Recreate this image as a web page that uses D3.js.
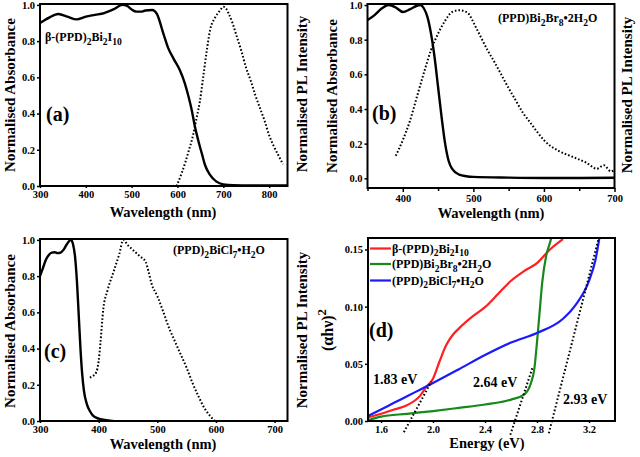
<!DOCTYPE html>
<html><head><meta charset="utf-8">
<script src="https://cdn.jsdelivr.net/npm/d3@7"></script>
<style>
body{margin:0;background:#fff}
svg{display:block}
text{font-family:"Liberation Serif","Times New Roman",serif;font-weight:bold;fill:#000}
</style>
</head><body>
<svg id="chart" width="640" height="457"></svg>
<script>
// ---------------- DATA ----------------
// Panel (a): beta-(PPD)2Bi2I10
const absA = [[300,0.90],[320,0.93],[340,0.95],[360,0.935],[380,0.92],[400,0.935],[420,0.945],[440,0.955],[460,0.975],[480,1.0],[490,0.995],[500,0.975],[510,0.963],[520,0.963],[530,0.969],[545,0.972],[555,0.95],[569,0.843],[580,0.76],[591,0.705],[605,0.64],[616,0.567],[624,0.494],[631,0.42],[638,0.328],[645,0.254],[653,0.18],[660,0.116],[671,0.061],[685,0.024],[700,0.009],[722,0.004],[760,0.003],[800,0.003],[840,0.003]];
const plA = [[598,0.0],[609,0.07],[617,0.13],[624,0.19],[633,0.27],[642,0.38],[649,0.47],[656,0.60],[664,0.75],[671,0.86],[682,0.93],[693,0.97],[700,0.99],[706,0.98],[712,0.95],[720,0.90],[730,0.82],[740,0.74],[750,0.65],[760,0.58],[770,0.50],[780,0.43],[790,0.36],[800,0.28],[810,0.22],[820,0.17],[830,0.12]];
const ticksAx = [300,400,500,600,700,800];

// Panel (b): (PPD)Bi2Br8.2H2O
const absB = [[350,0.913],[360,0.942],[370,0.98],[380,1.0],[390,0.986],[400,0.96],[410,0.975],[420,0.996],[425,1.0],[430,0.98],[435,0.93],[440,0.835],[445,0.70],[450,0.527],[455,0.353],[460,0.20],[465,0.10],[470,0.054],[480,0.021],[490,0.012],[500,0.008],[550,0.004],[600,0.002],[650,0.002],[700,0.003]];
const plB = [[390,0.13],[400,0.22],[410,0.33],[420,0.47],[430,0.61],[440,0.74],[450,0.835],[460,0.91],[470,0.96],[480,0.97],[490,0.96],[495,0.94],[500,0.90],[510,0.82],[520,0.74],[530,0.67],[540,0.595],[550,0.52],[560,0.45],[570,0.38],[580,0.325],[590,0.27],[600,0.22],[620,0.16],[640,0.125],[660,0.09],[675,0.055],[685,0.075],[695,0.04],[700,0.048]];
const ticksBx = [400,500,600,700];
const minorBx = [350,450,550,650];

// Panel (c): (PPD)2BiCl7.H2O
const absC = [[300,0.80],[305,0.844],[310,0.89],[315,0.917],[320,0.93],[325,0.932],[330,0.927],[335,0.93],[340,0.945],[345,0.972],[350,0.995],[353,1.0],[356,0.98],[360,0.90],[363,0.77],[366,0.587],[369,0.40],[372,0.257],[375,0.165],[380,0.092],[385,0.055],[390,0.031],[400,0.013],[410,0.006],[420,0.002],[425,0.0]];
const plC = [[385,0.24],[390,0.248],[396,0.27],[400,0.33],[403,0.43],[408,0.62],[415,0.72],[425,0.82],[435,0.92],[442,1.0],[450,0.97],[460,0.94],[470,0.91],[480,0.88],[485,0.826],[490,0.76],[500,0.69],[510,0.605],[520,0.514],[530,0.44],[540,0.367],[550,0.294],[560,0.21],[570,0.138],[580,0.073],[590,0.028],[598,0.0]];
const ticksCx = [300,400,500,600,700];

// Panel (d): Tauc plots
const taucI = [[1.5,0.003],[1.6,0.0063],[1.7,0.010],[1.8,0.0138],[1.9,0.022],[1.95,0.030],[2.0,0.037],[2.05,0.052],[2.1,0.066],[2.15,0.075],[2.2,0.081],[2.3,0.091],[2.4,0.0995],[2.5,0.111],[2.6,0.1226],[2.7,0.131],[2.8,0.138],[2.9,0.15],[3.0,0.159]];
const taucBr = [[1.5,0.0006],[1.6,0.0038],[1.8,0.0063],[2.0,0.0087],[2.2,0.0115],[2.4,0.0144],[2.6,0.0187],[2.7,0.023],[2.75,0.032],[2.78,0.046],[2.8,0.069],[2.82,0.095],[2.84,0.121],[2.87,0.144],[2.9,0.156],[2.91,0.16]];
const taucCl = [[1.5,0.0043],[1.6,0.010],[1.7,0.0159],[1.8,0.0216],[1.9,0.0274],[2.0,0.0332],[2.2,0.0453],[2.4,0.0577],[2.6,0.0686],[2.8,0.077],[3.0,0.0894],[3.1,0.102],[3.2,0.1226],[3.25,0.141],[3.28,0.16]];
const tangentI = [[1.776,-0.0098],[1.988,0.0346]];
const tangentBr = [[2.595,-0.012],[2.768,0.0476]];
const tangentCl = [[2.891,-0.0107],[3.275,0.16]];
const ticksDx = [1.6,2.0,2.4,2.8,3.2];
const ticksDy = [0.00,0.05,0.10,0.15];
const ticksAbsY = [0.0,0.2,0.4,0.6,0.8,1.0];
const legendNames = [
  [["β-(PPD)",null],["2","sub"],["Bi","n"],["2","sub"],["I","n"],["10","sub"]],
  [["(PPD)Bi",null],["2","sub"],["Br","n"],["8","sub"],["•2H","n"],["2","sub"],["O","n"]],
  [["(PPD)",null],["2","sub"],["BiCl","n"],["7","sub"],["•H","n"],["2","sub"],["O","n"]]
];
const seriesColors = ["#ff1f1f","#17891a","#1a1aff"];
const gapLabels = ["1.83 eV","2.64 eV","2.93 eV"];

// ---------------- DRAWING ----------------
const svg = d3.select("#chart");

function rich(sel, parts, size){
  let shift = 0;
  parts.forEach(([t,k])=>{
    const target = k==="sub" ? size*0.33 : (k==="sup" ? -size*0.45 : 0);
    sel.append("tspan").attr("dy", target-shift)
      .attr("font-size", (k==="sub"||k==="sup") ? size*0.8 : size).text(t);
    shift = target;
  });
}

let clipId = 0;
function panel(o){
  const g = svg.append("g");
  const x = d3.scaleLinear().domain(o.xDomain).range([o.left,o.right]);
  const y = d3.scaleLinear().domain(o.yDomain).range([o.bottom,o.top]);
  const id = "clip"+(clipId++);
  svg.append("clipPath").attr("id",id).append("rect")
    .attr("x",o.left).attr("y",o.top).attr("width",o.right-o.left).attr("height",o.bottom-o.top);

  const xa = g.append("g").attr("transform",`translate(0,${o.bottom})`)
    .call(d3.axisBottom(x).tickValues(o.xTicks).tickFormat(o.xFmt).tickSize(o.xTickSize).tickPadding(o.xPad).tickSizeOuter(0));
  if(o.xMinor){
    g.append("g").attr("transform",`translate(0,${o.bottom})`)
      .call(d3.axisBottom(x).tickValues(o.xMinor).tickFormat("").tickSize(3).tickSizeOuter(0))
      .call(s=>s.select(".domain").remove())
      .selectAll("line").attr("stroke-width",1.5);
  }
  const ya = g.append("g").attr("transform",`translate(${o.left},0)`)
    .call(d3.axisLeft(y).tickValues(o.yTicks).tickFormat(o.yFmt).tickSize(3).tickPadding(2).tickSizeOuter(0));
  [xa,ya].forEach(a=>{
    a.select(".domain").remove();
    a.selectAll("line").attr("stroke-width",1.5);
    a.selectAll("text").attr("font-size",10.5).attr("font-family",'"Liberation Serif",serif').attr("font-weight","bold");
  });

  const cg = g.append("g").attr("clip-path",`url(#${id})`);
  const line = d3.line().x(d=>x(d[0])).y(d=>y(d[1])).curve(d3.curveMonotoneX);
  (o.solid||[]).forEach(s=>{
    cg.append("path").datum(s.data).attr("d",line).attr("fill","none")
      .attr("stroke",s.color||"#000").attr("stroke-width",s.w||2.4).attr("stroke-linejoin","round");
  });
  (o.dotted||[]).forEach(s=>{
    cg.append("path").datum(s).attr("d",line).attr("fill","none")
      .attr("stroke","#000").attr("stroke-width",2).attr("stroke-dasharray","1.6,2");
  });
  g.append("rect").attr("x",o.left).attr("y",o.top).attr("width",o.right-o.left).attr("height",o.bottom-o.top)
    .attr("fill","none").attr("stroke","#000").attr("stroke-width",2);
  return {g,x,y};
}

function label(x,y,txt,size,rot){
  const t = svg.append("text").attr("font-size",size).attr("text-anchor","middle")
    .attr("transform",`translate(${x},${y})`+(rot?" rotate(-90)":""));
  if(typeof txt==="string") t.text(txt); else rich(t,txt,size);
  return t;
}

const fmt0 = d=>d3.format("d")(d);
const fmt1 = d3.format(".1f");
const fmt2 = d3.format(".2f");

// (a)
panel({left:40,right:287.5,top:4,bottom:186,xDomain:[300,840],yDomain:[0,1.005],
  xTicks:ticksAx,xFmt:fmt0,xTickSize:2,xPad:3,yTicks:ticksAbsY,yFmt:fmt1,
  solid:[{data:absA}],dotted:[plA]});
label(15,95,"Normalised Absorbance",15,true);
label(307,94,"Normalised PL Intensity",15,true);
label(163,217,"Wavelength (nm)",14.5,false);
svg.append("text").attr("x",46).attr("y",121).attr("font-size",20).text("(a)");
rich(svg.append("text").attr("x",45).attr("y",41), legendNames[0], 12);

// (b)
panel({left:367.5,right:614.5,top:4,bottom:188,xDomain:[350,700],yDomain:[-0.056,1.006],
  xTicks:ticksBx,xMinor:minorBx,xFmt:fmt0,xTickSize:4,xPad:3,yTicks:ticksAbsY,yFmt:fmt1,
  solid:[{data:absB}],dotted:[plB]});
label(337,96,"Normalised Absorbance",15,true);
label(632,95,"Normalised PL Intensity",15,true);
label(491,218,"Wavelength (nm)",14.5,false);
svg.append("text").attr("x",372).attr("y",120).attr("font-size",20).text("(b)");
rich(svg.append("text").attr("x",498).attr("y",22), legendNames[1], 12);

// (c)
panel({left:40,right:287.5,top:239,bottom:421,xDomain:[300,722],yDomain:[0,1.005],
  xTicks:ticksCx,xFmt:fmt0,xTickSize:2,xPad:3,yTicks:ticksAbsY,yFmt:fmt1,
  solid:[{data:absC}],dotted:[plC]});
label(15,331,"Normalised Absorbance",15,true);
label(307,330,"Normalised PL Intensity",15,true);
label(163,449,"Wavelength (nm)",14.5,false);
svg.append("text").attr("x",44).attr("y",358).attr("font-size",20).text("(c)");
rich(svg.append("text").attr("x",173).attr("y",254), legendNames[2], 12);

// (d)
const pd = panel({left:368,right:615,top:238,bottom:421,xDomain:[1.5,3.4],yDomain:[0,0.16],
  xTicks:ticksDx,xFmt:fmt1,xTickSize:2,xPad:3,yTicks:ticksDy,yFmt:fmt2,
  solid:[{data:taucI,color:seriesColors[0],w:2.2},{data:taucBr,color:seriesColors[1],w:2.2},{data:taucCl,color:seriesColors[2],w:2.2}]});
const straight = d3.line().x(d=>pd.x(d[0])).y(d=>pd.y(d[1]));
[tangentI,tangentBr,tangentCl].forEach(t=>{
  svg.append("path").datum(t).attr("d",straight).attr("fill","none")
    .attr("stroke","#000").attr("stroke-width",2).attr("stroke-dasharray","1.6,2.2");
});
const yl = svg.append("text").attr("font-size",16).attr("text-anchor","middle")
  .attr("transform","translate(333,330) rotate(-90)");
rich(yl, [["(αhν)",null],["2","sup"]], 16);
label(487,448,"Energy (eV)",14.5,false);
svg.append("text").attr("x",369).attr("y",337).attr("font-size",20).text("(d)");
const legY = [248.5,264,280.5];
legendNames.forEach((n,i)=>{
  svg.append("line").attr("x1",370).attr("x2",391).attr("y1",legY[i]).attr("y2",legY[i])
    .attr("stroke",seriesColors[i]).attr("stroke-width",2.2);
  rich(svg.append("text").attr("x",392).attr("y",legY[i]+4), n, 12);
});
const gapPos = [[373,384],[473,387],[563,404]];
gapLabels.forEach((t,i)=>{
  svg.append("text").attr("x",gapPos[i][0]).attr("y",gapPos[i][1]).attr("font-size",14).text(t);
});
</script>
</body></html>
